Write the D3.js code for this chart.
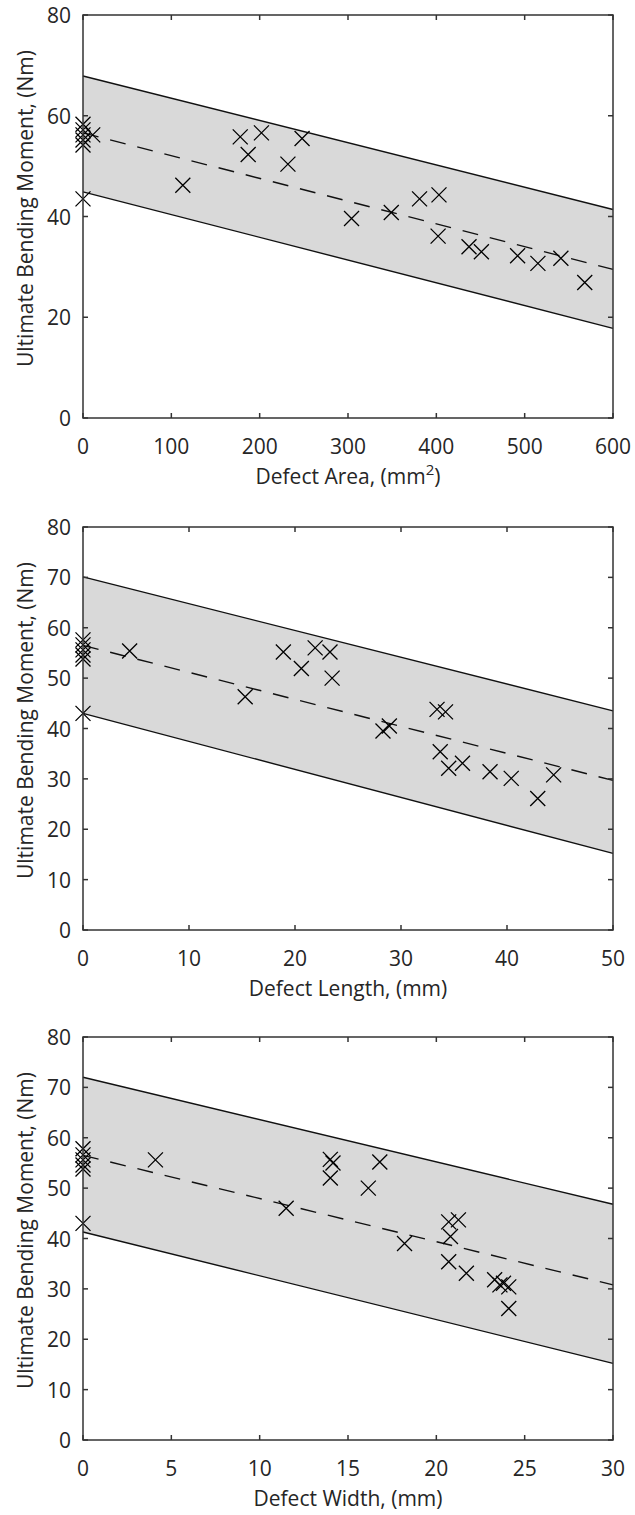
<!DOCTYPE html>
<html>
<head>
<meta charset="utf-8">
<script src="https://cdn.jsdelivr.net/npm/d3@7"></script>
<style>
  body { margin: 0; background: #fff; }
  text { font-family: "Open Sans", Lato, sans-serif; fill: #262626; }
</style>
</head>
<body>
<svg width="635" height="1515"></svg>
<script>
// panel 1 - defect area
let area_x = [0, 0, 0, 0, 0, 11, 0, 113, 178, 187, 202, 232, 248, 304, 349, 381, 403, 402, 437, 451, 492, 515, 541, 568];
let area_y = [58.3, 57.2, 56.2, 55.2, 54.2, 56.2, 43.5, 46.2, 55.8, 52.3, 56.6, 50.4, 55.5, 39.6, 40.8, 43.5, 44.3, 36.1, 34.0, 33.0, 32.2, 30.7, 31.7, 26.9];
let area_fit_x = [0, 600];
let area_fit = [56.6, 29.5];
let area_upper = [67.9, 41.4];
let area_lower = [44.9, 17.8];
let area_ticks = [0, 100, 200, 300, 400, 500, 600];

// panel 2 - defect length
let length_x = [0, 0, 0, 0, 0, 0, 4.4, 15.3, 18.9, 20.6, 21.9, 23.3, 23.5, 28.3, 28.9, 33.4, 34.2, 33.7, 34.5, 35.8, 38.4, 40.4, 42.9, 44.4];
let length_y = [57.6, 56.6, 55.6, 54.6, 53.8, 43.0, 55.4, 46.3, 55.2, 51.9, 56.0, 55.2, 50.0, 39.5, 40.5, 43.8, 43.3, 35.4, 32.1, 33.1, 31.4, 30.1, 26.1, 30.8];
let length_fit_x = [0, 50];
let length_fit = [56.5, 29.7];
let length_upper = [70.1, 43.5];
let length_lower = [43.0, 15.2];
let length_ticks = [0, 10, 20, 30, 40, 50];

// panel 3 - defect width
let width_x = [0, 0, 0, 0, 0, 0, 4.1, 11.5, 14.0, 14.15, 14.0, 16.8, 16.15, 18.2, 20.7, 21.25, 20.8, 20.7, 21.7, 23.3, 23.6, 23.8, 24.1, 24.1];
let width_y = [57.8, 56.6, 55.6, 54.6, 53.8, 43.0, 55.6, 46.0, 55.7, 55.0, 52.0, 55.2, 50.0, 39.0, 43.3, 43.7, 40.4, 35.4, 33.1, 31.8, 30.8, 31.1, 30.4, 26.1];
let width_fit_x = [0, 30];
let width_fit = [56.5, 30.8];
let width_upper = [72.0, 46.8];
let width_lower = [41.3, 15.2];
let width_ticks = [0, 5, 10, 15, 20, 25, 30];

let y_ticks_a = [0, 20, 40, 60, 80];
let y_ticks_b = [0, 10, 20, 30, 40, 50, 60, 70, 80];
let y_label = "Ultimate Bending Moment, (Nm)";

var svg = d3.select("svg");
var plot_left = 83, plot_right = 613, plot_height = 403;
var axis_color = "#333333";

function draw_panel(top, xs, ys, fit_x, fit, upper, lower, x_ticks, y_ticks, label, label_sup) {
  var x = d3.scaleLinear().domain([x_ticks[0], x_ticks[x_ticks.length - 1]]).range([plot_left, plot_right]);
  var y = d3.scaleLinear().domain([0, 80]).range([top + plot_height, top]);
  var bottom = top + plot_height;

  var g = svg.append("g");

  // prediction band
  var band = fit_x.map((d, i) => [d, lower[i], upper[i]]);
  g.append("path")
    .datum(band)
    .attr("fill", "#d9d9d9")
    .attr("d", d3.area().x(d => x(d[0])).y0(d => y(d[1])).y1(d => y(d[2])));

  var line = d3.line().x(d => x(d[0])).y(d => y(d[1]));
  [upper, lower].forEach(function(b) {
    g.append("path")
      .datum(fit_x.map((d, i) => [d, b[i]]))
      .attr("fill", "none")
      .attr("stroke", "#111")
      .attr("stroke-width", 1.4)
      .attr("d", line);
  });

  g.append("path")
    .datum(fit_x.map((d, i) => [d, fit[i]]))
    .attr("fill", "none")
    .attr("stroke", "#111")
    .attr("stroke-width", 1.4)
    .attr("stroke-dasharray", "16,12")
    .attr("d", line);

  // markers
  g.selectAll(".pt")
    .data(xs.map((d, i) => [d, ys[i]]))
    .enter().append("path")
      .attr("class", "pt")
      .attr("transform", d => "translate(" + x(d[0]) + "," + y(d[1]) + ")")
      .attr("d", "M-7.5,-7.5L7.5,7.5M-7.5,7.5L7.5,-7.5")
      .attr("stroke", "#000")
      .attr("stroke-width", 1.3)
      .attr("fill", "none");

  // axes (box with inside ticks)
  var ax = g.append("g").attr("stroke", axis_color).attr("stroke-width", 1.5);
  ax.append("rect")
    .attr("x", plot_left).attr("y", top)
    .attr("width", plot_right - plot_left).attr("height", plot_height)
    .attr("fill", "none");

  x_ticks.forEach(function(t) {
    ax.append("line").attr("x1", x(t)).attr("x2", x(t)).attr("y1", bottom).attr("y2", bottom - 5);
    ax.append("line").attr("x1", x(t)).attr("x2", x(t)).attr("y1", top).attr("y2", top + 5);
  });
  y_ticks.forEach(function(t) {
    ax.append("line").attr("x1", plot_left).attr("x2", plot_left + 5).attr("y1", y(t)).attr("y2", y(t));
    ax.append("line").attr("x1", plot_right).attr("x2", plot_right - 5).attr("y1", y(t)).attr("y2", y(t));
  });

  g.selectAll(".xt")
    .data(x_ticks)
    .enter().append("text")
      .attr("x", d => x(d))
      .attr("y", bottom + 28)
      .attr("text-anchor", "middle")
      .attr("dominant-baseline", "central")
      .attr("font-size", 21)
      .text(d => d);

  g.selectAll(".yt")
    .data(y_ticks)
    .enter().append("text")
      .attr("x", plot_left - 12)
      .attr("y", d => y(d))
      .attr("text-anchor", "end")
      .attr("dominant-baseline", "central")
      .attr("font-size", 21)
      .text(d => d);

  var xl = g.append("text")
    .attr("x", (plot_left + plot_right) / 2)
    .attr("y", bottom + 58)
    .attr("text-anchor", "middle")
    .attr("dominant-baseline", "central")
    .attr("font-size", 21)
    .text(label);
  if (label_sup) {
    xl.append("tspan").attr("dy", -7).attr("font-size", 15).text(label_sup);
    xl.append("tspan").attr("dy", 7).text(")");
  }

  g.append("text")
    .attr("transform", "translate(25," + (top + plot_height / 2 - 8) + ") rotate(-90)")
    .attr("text-anchor", "middle")
    .attr("dominant-baseline", "central")
    .attr("font-size", 21)
    .text(y_label);
}

draw_panel(15, area_x, area_y, area_fit_x, area_fit, area_upper, area_lower, area_ticks, y_ticks_a, "Defect Area, (mm", "2");
draw_panel(527, length_x, length_y, length_fit_x, length_fit, length_upper, length_lower, length_ticks, y_ticks_b, "Defect Length, (mm)", null);
draw_panel(1037, width_x, width_y, width_fit_x, width_fit, width_upper, width_lower, width_ticks, y_ticks_b, "Defect Width, (mm)", null);
</script>
</body>
</html>
